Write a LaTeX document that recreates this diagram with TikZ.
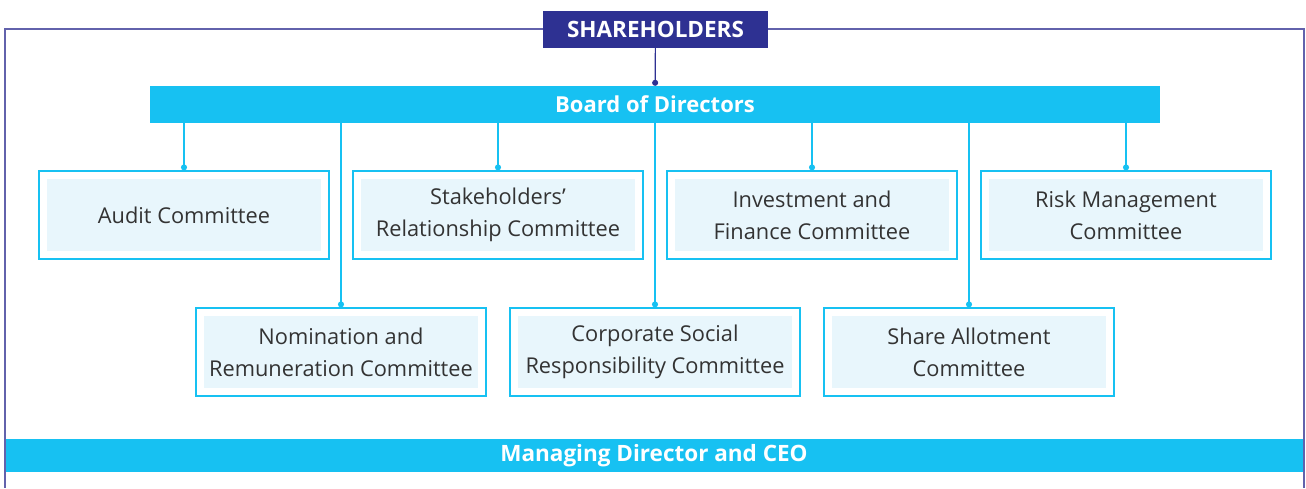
\documentclass[tikz,border=0pt]{standalone}
\usepackage{fontspec}
\setmainfont{Open Sans}
\usetikzlibrary{arrows.meta, positioning}
\definecolor{indigo}{RGB}{46,49,146}
\definecolor{frameline}{RGB}{98,98,172}
\definecolor{boardcyan}{RGB}{23,193,242}
\definecolor{palecyan}{RGB}{232,246,252}
\definecolor{boxtext}{RGB}{51,51,51}

\begin{document}
\begin{tikzpicture}[
    x=1pt, y=-1pt,
    bar/.style={rectangle, fill=boardcyan, text=white, inner sep=0pt, font=\fontsize{22.5}{26}\selectfont\bfseries},
    cbox/.style={rectangle, draw=boardcyan, line width=1.2pt, fill=white, minimum width=290pt, minimum height=88pt, align=center, text=boxtext, font=\fontsize{21.8}{32}\selectfont,
        path picture={\fill[palecyan] ([shift={(8pt,8pt)}]path picture bounding box.south west) rectangle ([shift={(-8pt,-8pt)}]path picture bounding box.north east);}},
    link/.style={draw=boardcyan, line width=1.2pt, -{Circle[length=6pt]}},
    frame/.style={draw=frameline, line width=1.4pt}
]
\useasboundingbox (0,0) rectangle (1306,488);

% top
\node[bar, fill=indigo, minimum width=225pt, minimum height=37pt] (sh) at (655.5,29) {SHAREHOLDERS};
\node[bar, font=\fontsize{22}{26}\selectfont\bfseries, minimum width=1010pt, minimum height=37pt] (board) at (655,104.5) {Board of Directors};

% committees, first row
\node[cbox] (aud) at (184,215) {Audit Committee};
\node[cbox, right=22.8pt of aud] (stk) {Stakeholders’\\Relationship Committee};
\node[cbox, right=22.8pt of stk] (inv) {Investment and\\Finance Committee};
\node[cbox, right=22.8pt of inv] (risk) {Risk Management\\Committee};

% committees, second row
\node[cbox] (nom) at (341,352) {Nomination and\\Remuneration Committee};
\node[cbox, right=22.8pt of nom] (csr) {Corporate Social\\Responsibility Committee};
\node[cbox, right=22.8pt of csr] (share) {Share Allotment\\Committee};

% bottom
\node[bar, minimum width=1300pt, minimum height=33pt] (md) at (654,455.5) {Managing Director and CEO};

% frame
\draw[frame] (sh.west) -- (5,29) -- (5,488);
\draw[frame] (sh.east) -- (1304,29) -- (1304,488);

% links
\draw[link, draw=indigo] (sh) -- (board);
\foreach \c in {aud, stk, inv, risk, nom, csr, share}
    \draw[link] (board.south -| \c.north) -- (\c.north);

\end{tikzpicture}
\end{document}
